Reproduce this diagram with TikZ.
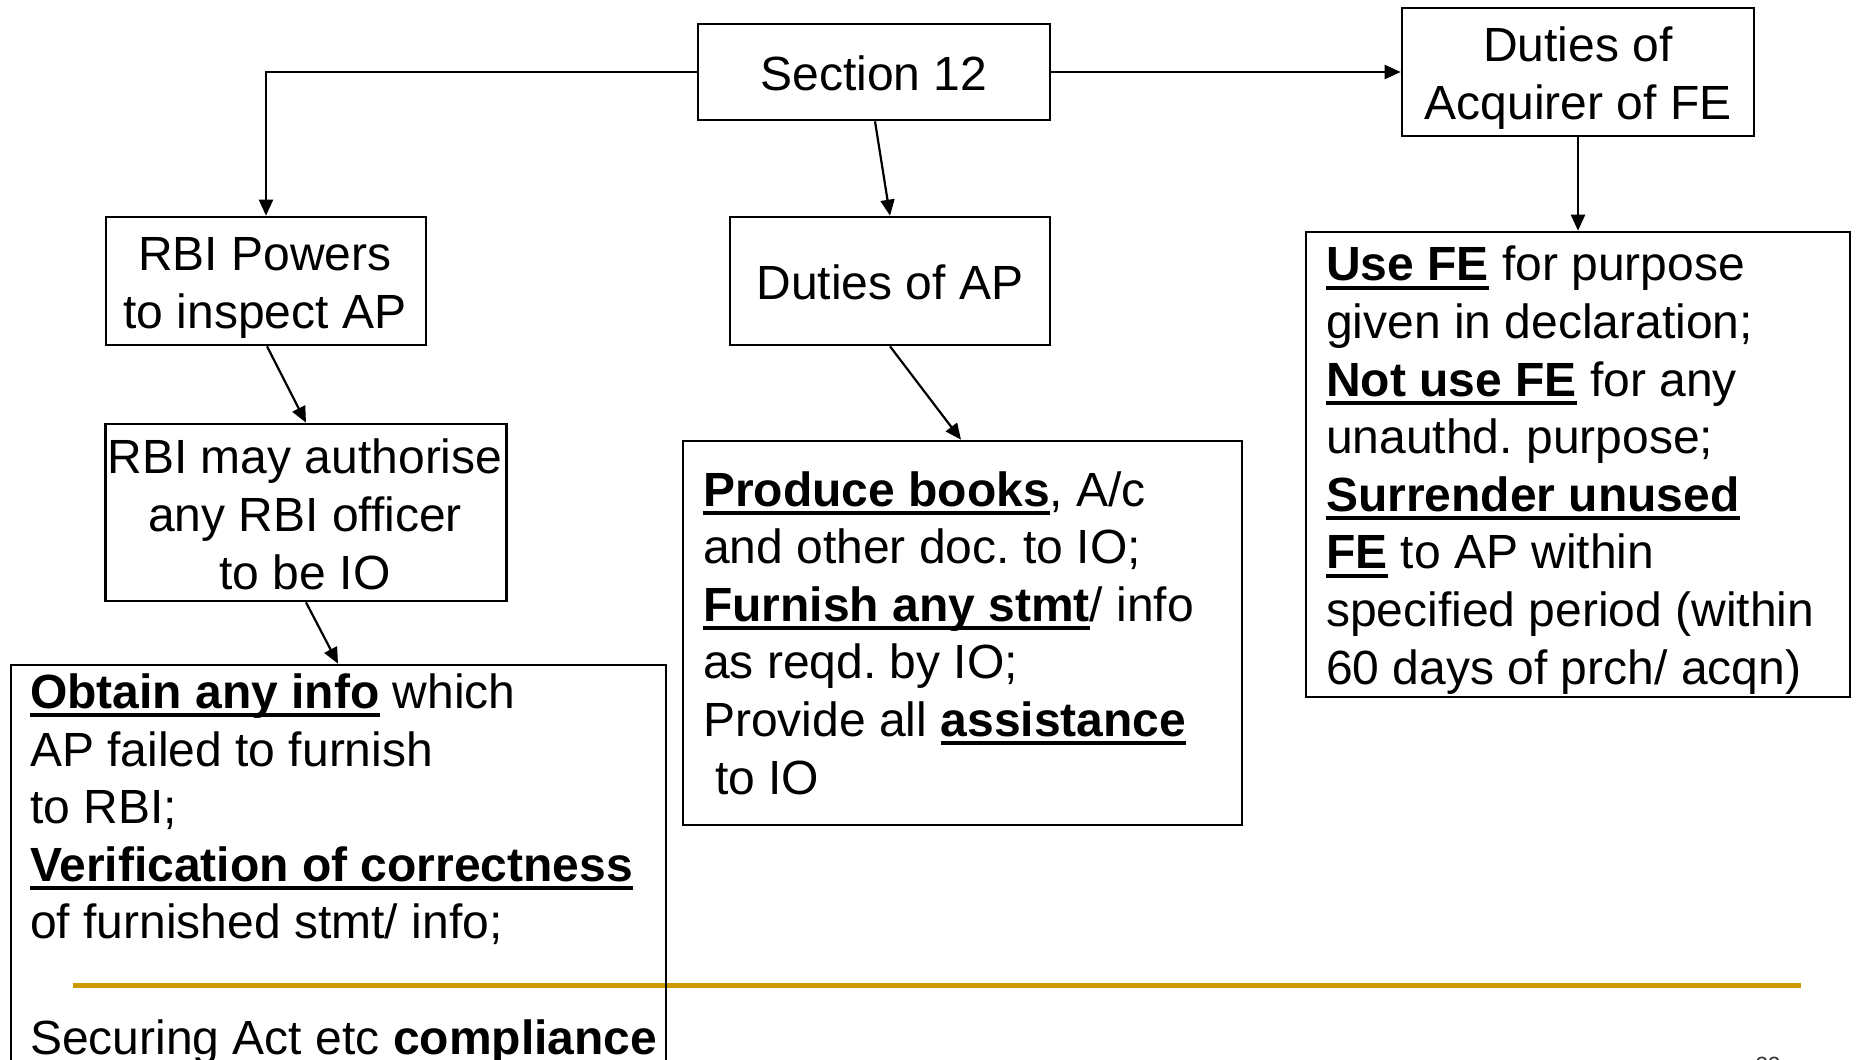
\documentclass[tikz,border=0pt]{standalone}
\usepackage{fontspec}
\setmainfont{Liberation Sans}
\usetikzlibrary{arrows.meta}
\frenchspacing
\newsavebox\ulbox
\newcommand\ulb[1]{\sbox\ulbox{\bfseries #1}\rlap{\rule[-9pt]{\wd\ulbox}{4pt}}\usebox\ulbox}
\definecolor{gold}{RGB}{204,153,0}
\begin{document}
\begin{tikzpicture}[x=1pt,y=-1pt,
  box/.style={draw, line width=2.6pt, inner sep=0pt},
  conn/.style={line width=2.2pt, -{Triangle[length=16pt,width=14pt]}},
  txt/.style={inner sep=0pt, font=\fontsize{48}{57.6}\selectfont\frenchspacing},
  ltxt/.style={txt, align=left, anchor=base west},
  ctxt/.style={txt, align=center, anchor=base}]
\useasboundingbox (0,0) rectangle (1858,1060);
\clip (0,0) rectangle (1858,1060);
\fill[white] (0,0) rectangle (1858,1060);
% template line and page number
\draw[gold, line width=5pt] (73,985) -- (1801,985);
\node[inner sep=0pt, anchor=north, font=\fontsize{22}{26}\selectfont, text=black!80] (pg) at (1768,1057) {33};
% boxes
\node[box, minimum width=352pt, minimum height=96pt] (sec) at (874,72) {};
\node[box, minimum width=352pt, minimum height=128pt] (acq) at (1578,72) {};
\node[box, minimum width=320pt, minimum height=128pt] (pow) at (266,281) {};
\node[box, minimum width=320pt, minimum height=128pt] (dap) at (890,281) {};
\node[box, minimum width=544pt, minimum height=465pt] (use) at (1578,464.5) {};
\node[box, minimum width=401pt, minimum height=177pt] (auth) at (306,512.5) {};
\node[box, minimum width=559pt, minimum height=384pt] (prod) at (962.5,633) {};
\node[box, minimum width=655pt, minimum height=450pt] (obt) at (338.5,890) {};
% texts (base anchor = last line's baseline)
\node[ctxt] (sect) at (874,90) {Section 12};
\node[ctxt] (acqt) at (1578,119) {Duties of\\Acquirer of FE};
\node[ctxt] (powt) at (265,328) {RBI Powers\hspace{18pt}\\to inspect AP};
\node[ctxt] (dapt) at (890,299) {Duties of AP};
\node[ctxt] (autht) at (305,589) {RBI may authorise\\any RBI officer\hspace{12pt}\\to be IO};
\node[ltxt] (usett) at (1326,684) {\ulb{Use FE} for purpose\\given in declaration;\\\ulb{Not use FE} for any\\unauthd. purpose;\\\ulb{Surrender unused}\\\ulb{FE} to AP within\\specified period (within\\60 days of prch/ acqn)};
\node[ltxt] (prodt) at (703,794) {\ulb{Produce books}, A/c\\and other doc. to IO;\\\ulb{Furnish any stmt}/ info\\as reqd. by IO;\\Provide all \ulb{assistance}\\\hspace{12pt}to IO};
\node[ltxt] (obtt) at (30,1054) {\ulb{Obtain any info} which\\AP failed to furnish\\to RBI;\\\ulb{Verification of correctness}\\of furnished stmt/ info;\\[57.6pt]Securing Act etc \textbf{compliance}};
% connectors
\draw[conn] (sec.west) -| (pow.north);
\draw[conn] (sec.east) -- (acq.west);
\draw[conn] ([xshift=1pt]sec.south) -- (dap.north);
\draw[conn] (acq.south) -- (use.north);
\draw[conn] ([xshift=1pt]pow.south) -- ([xshift=40pt]pow.south |- auth.north);
\draw[conn] (auth.south) -- ([xshift=32pt]auth.south |- obt.north);
\draw[conn] (dap.south) -- ([xshift=71pt]dap.south |- prod.north);
\end{tikzpicture}
\end{document}
